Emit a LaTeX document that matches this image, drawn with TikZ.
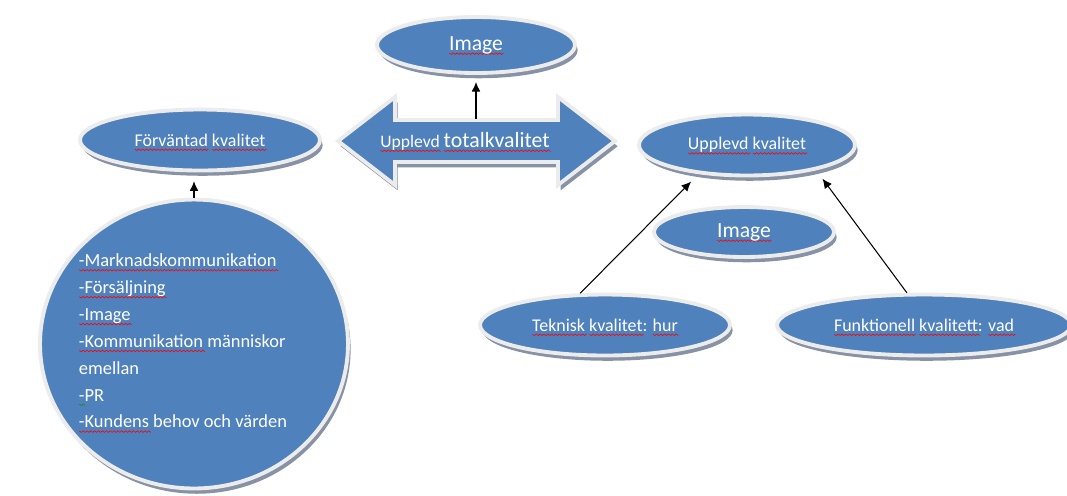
\documentclass[tikz,border=0pt]{standalone}
\usepackage{fontspec}
\setmainfont{Carlito}
\usetikzlibrary{shapes.geometric,shadows,arrows.meta}

\definecolor{bubbleblue}{RGB}{79,129,189}
\definecolor{rimgray}{RGB}{236,236,236}
\definecolor{shadowgray}{RGB}{135,146,165}

% wavy spell-check underline
\newbox\spellbox \newdimen\spellwd \newdimen\spellx \newcount\spellk
\newcommand\spell[2][red]{\setbox\spellbox\hbox{#2}\spellwd=\wd\spellbox
  \smash{\rlap{\begin{pgfpicture}\pgfsetbaseline{0pt}\pgfsetlinewidth{0.35pt}\pgfsetstrokecolor{#1}%
    \spellx=0pt \spellk=0
    \pgfpathmoveto{\pgfqpoint{0pt}{-1.8pt}}%
    \loop\ifdim\spellx<\spellwd \advance\spellx by 1.1pt \advance\spellk by 1
      \ifodd\spellk\pgfpathlineto{\pgfqpoint{\spellx}{-2.5pt}}\else\pgfpathlineto{\pgfqpoint{\spellx}{-1.6pt}}\fi
    \repeat
    \pgfusepath{stroke}\end{pgfpicture}}}\box\spellbox}

\tikzset{
  rimmed/.style={fill=bubbleblue, draw=rimgray, line width=2.2pt, line join=miter,
    drop shadow={shadow xshift=1.5pt, shadow yshift=-3pt, fill=shadowgray, opacity=1}},
  bubble/.style={rimmed, ellipse, inner sep=0pt, text=white},
  word/.style={font=\fontsize{10.2}{12}\selectfont},
  bigword/.style={font=\fontsize{12.3}{14}\selectfont},
  listtext/.style={text=white, align=left, font=\fontsize{10.5}{15.3}\selectfont},
  link/.style={-{Latex[length=5.5pt,width=5pt,fill=black]}, draw=black, line width=0.6pt},
}

\begin{document}
\begin{tikzpicture}[x=0.02cm, y=-0.02cm]
  \useasboundingbox (0,0) rectangle (1067,495);
  \clip (0,0) rectangle (1067,495);

  % double arrow in the middle
  \draw[rimmed] (338,141) -- (395,97) -- (395,120) -- (558,120) -- (558,97) -- (615,141)
    -- (558,185) -- (558,162) -- (395,162) -- (395,185) -- cycle;
  \node[text=white] (total) at (465,141) {\fontsize{10}{12}\selectfont\spell{Upplevd} \fontsize{12.4}{14}\selectfont\spell{totalkvalitet}};
  \coordinate (totaltop) at (476,119);

  \node[bubble, bigword, minimum width=3.96cm, minimum height=1.12cm] (image1) at (476,45) {\spell{Image}};
  \node[bubble, word, minimum width=4.8cm, minimum height=1.22cm] (forv) at (200,140) {\spell{Förväntad} \spell{kvalitet}};
  \node[bubble, word, minimum width=4.32cm, minimum height=1.22cm] (upplevd) at (747,145) {\spell{Upplevd} \spell{kvalitet}};
  \node[bubble, bigword, minimum width=3.6cm, minimum height=1.0cm] (image2) at (744,232) {\spell{Image}};
  \node[bubble, word, minimum width=5.0cm, minimum height=1.22cm] (teknisk) at (605,325) {\spell{Teknisk} \spell{kvalitet}: \spell{hur}};
  \node[bubble, word, minimum width=5.88cm, minimum height=1.22cm] (funk) at (924,325) {\spell{Funktionell} \spell{kvalitett}: \spell{vad}};

  \node[bubble, minimum width=6.16cm, minimum height=5.78cm] (big) at (194,344) {};
  \node[listtext] (list) at (183,341) {\spell{-Marknadskommunikation}\\
    \spell{-Försäljning}\\
    \spell{-Image}\\
    \spell{-Kommunikation} människor\\
    emellan\\
    \spell[green!60!black]{-}PR\\
    \spell{-Kundens} behov och värden};

  \draw[link, shorten >=4pt] (totaltop) -- (image1.south);
  \draw[link, shorten >=5pt] (big.north) -- (big.north |- forv.south);
  \draw[link, shorten >=6pt] (teknisk.128) -- (upplevd.211);
  \draw[link, shorten >=6pt] (funk.118) -- (upplevd.-20);
\end{tikzpicture}
\end{document}
